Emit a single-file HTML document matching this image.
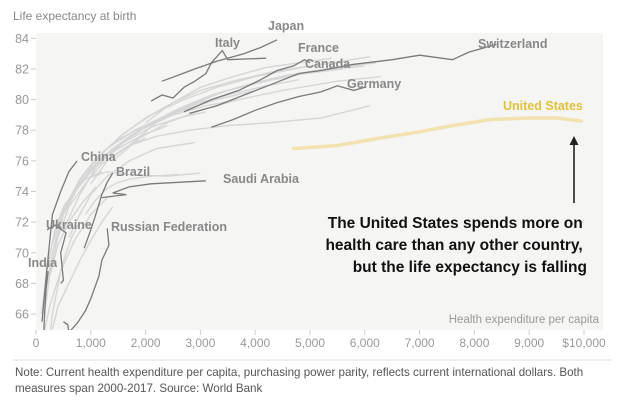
<!DOCTYPE html>
<html><head><meta charset="utf-8">
<style>
body{margin:0;background:#fff;width:624px;height:408px;overflow:hidden;font-family:"Liberation Sans",sans-serif;}
svg text{font-family:"Liberation Sans",sans-serif;}
</style></head>
<body>
<svg id="chart" width="624" height="408" viewBox="0 0 624 408" xmlns="http://www.w3.org/2000/svg">
<defs><clipPath id="pc"><rect x="36" y="33" width="567" height="297"/></clipPath></defs>
<rect x="36" y="33" width="567" height="297" fill="#f5f5f3"/>
<text x="13" y="20" font-size="12" fill="#888">Life expectancy at birth</text>
<text x="599" y="323" font-size="11.5" fill="#999" text-anchor="end">Health expenditure per capita</text>
<g id="axes"></g>
<g id="grey" clip-path="url(#pc)"></g>
<g id="hl" clip-path="url(#pc)"></g>
<g id="labels"></g>
<line x1="574" y1="203" x2="574" y2="142" stroke="#222" stroke-width="1.6"/>
<polygon points="574,136 569.5,145 578.5,145" fill="#222"/>
<text font-size="15.5" font-weight="bold" fill="#111" text-anchor="end">
<tspan x="587" y="228">The United States spends more on</tspan>
<tspan x="587" y="250">health care than any other country,</tspan>
<tspan x="587" y="272">but the life expectancy is falling</tspan></text>
<line x1="13" y1="360" x2="612" y2="360" stroke="#ddd" stroke-width="1"/>
<text font-size="11.6" fill="#555">
<tspan x="15" y="376">Note: Current health expenditure per capita, purchasing power parity, reflects current international dollars. Both</tspan>
<tspan x="15" y="392">measures span 2000-2017. Source: World Bank</tspan></text>
</svg>
<script>
const xTicks=[0,1000,2000,3000,4000,5000,6000,7000,8000,9000,10000];
const xTickLabels=["0","1,000","2,000","3,000","4,000","5,000","6,000","7,000","8,000","9,000","$10,000"];
const yTicks=[66,68,70,72,74,76,78,80,82,84];
const japanX=[2300,2600,2900,3300,3800,4100,4400];
const japanY=[81.2,81.6,82,82.5,83,83.4,83.9];
const italyX=[2100,2300,2500,2700,2900,3100,3200,3300,3400,3500,4200];
const italyY=[79.9,80.3,80.1,80.8,81.2,81.7,82.4,82.8,83.2,82.6,82.7];
const franceX=[2700,3200,3700,4100,4400,4700,4900,5000];
const franceY=[79.2,80,80.6,81.3,81.9,82.2,82.6,82.4];
const canadaX=[2800,3300,3800,4300,4800,5200];
const canadaY=[79.1,79.6,80.3,81,81.7,81.9];
const swissX=[5200,5800,6500,7000,7600,7900,8400];
const swissY=[81.9,82.3,82.6,82.9,82.6,83.1,83.6];
const germanyX=[3200,3600,4000,4400,4800,5200,5500,5800,6000];
const germanyY=[78.2,78.7,79.3,79.8,80.2,80.5,80.9,80.6,80.8];
const usX=[4700,5500,6300,7000,7600,8300,9000,9500,9950];
const usY=[76.8,77,77.5,77.9,78.3,78.7,78.8,78.8,78.6];
const chinaX=[110,200,300,450,600,750];
const chinaY=[65.5,69,72.5,74,75.3,76];
const brazilX=[880,1000,1100,1200,1300,1400];
const brazilY=[70.3,71.5,72.6,73.8,74.6,75.2];
const saudiX=[1200,1650,1400,1700,2100,2600,3100];
const saudiY=[73.6,73.8,73.9,74.3,74.5,74.6,74.7];
const russiaX=[1300,1330,1200,1150,1000,900,750,600,580,500];
const russiaY=[71.6,70.5,69.5,68.5,67,66.2,65.4,64.8,65.3,65.5];
const ukraineX=[200,350,550,450,500,450];
const ukraineY=[71.5,71.8,71.3,70,68.2,68];
const indiaX=[120,150,180,220];
const indiaY=[62,65.5,67.5,68.8];
const greyX=[
[100,200,350,500,700,900,1200],
[200,400,600,900,1200,1600,2000],
[150,300,500,800,1100,1500,1900,2400],
[300,500,800,1200,1600,2100,2600,3100],
[400,700,1000,1400,1900,2500,3100,3700],
[600,900,1300,1800,2400,3000,3600,4200,4800],
[800,1200,1700,2300,2900,3500,4200,4900,5600],
[1000,1500,2000,2600,3200,3900,4600,5300,6200],
[100,250,450,700,1000,1300],
[200,350,600,900,1300,1700,2400,3000],
[1500,2000,2500,3000,3600,4300,5000,5700],
[1700,2200,2800,3400,4000,4600,5200,6000],
[2000,2500,3000,3600,4200,4800,5400],
[300,500,800,1100,1500,2000,2500],
[150,250,400,600,850,1100],
[500,800,1100,1500,2000,2600,3300,4000],
[1200,1600,2100,2700,3300,4000,4700,5400,6100],
[900,1100,1300,1500,1700,2100,2600],
[600,800,1000,1300,1700,2200,2900],
[1000,1300,1700,2200,2800,3500,4300,5200,6100],
[300,400,600,800,1000,1200,1400],
[250,300,380,450,550,650,800],
[1400,1900,2400,3000,3700,4500,5500,6300]];
const greyY=[
[66,69,71.5,73,74,74.8,75.3],
[68,71,73,74.5,75.8,76.8,77.5],
[67,70,72.5,74.5,75.8,76.8,77.6,78.3],
[70,72.5,74.5,76,77.2,78.2,78.8,79.2],
[72,74,75.5,76.8,78,79,79.6,80],
[73.5,75.2,76.8,78,79,79.8,80.4,80.9,81.3],
[74.5,76.2,77.6,78.8,79.8,80.6,81.2,81.7,82],
[75.5,77,78.3,79.4,80.3,81,81.6,82,82.4],
[64,66.5,68.8,70.8,72.5,73.6],
[69,71.5,73.5,74.8,75.3,75.1,75,75.2],
[77.5,78.8,79.8,80.6,81.2,81.8,82.2,82.5],
[77,78.5,79.6,80.5,81.1,81.6,81.9,82.2],
[78.5,79.8,80.8,81.5,82.1,82.4,82.7],
[70.5,72.8,74.8,76.2,77.4,78.3,79],
[66,68.5,70.5,72,73.3,74.3],
[71.5,73.8,75.6,77,78.2,79.2,80,80.6],
[76.5,77.8,79,80,80.8,81.5,82,82.4,82.8],
[72.5,73.5,74.2,74.6,74.8,75,75.1],
[71,72.5,73.8,75,76,76.8,77.2],
[74.5,76,77,77.6,78,78.3,78.5,78.8,79.6],
[65,66.5,68,69.5,70.8,72,73],
[64.5,66,67.5,68.8,70,71,72],
[76,77.5,78.5,79.3,80,80.6,81.2,81.5]];
const X=v=>36+v*0.0548;
const Y=v=>38.3+(84-v)*15.32;
const NS="http://www.w3.org/2000/svg";
function mk(t,a,p){const e=document.createElementNS(NS,t);for(const k in a)e.setAttribute(k,a[k]);p.appendChild(e);return e;}
const axes=document.getElementById('axes');
xTicks.forEach((v,i)=>{
 const l=mk('line',{x1:X(v),x2:X(v),y1:330,y2:335,stroke:'#ccc'},axes);
 
 
 const t=mk('text',{x:X(v),y:347,'font-size':12,fill:'#999','text-anchor':'middle'},axes);
 
 
 t.textContent=xTickLabels[i];
});
yTicks.forEach(v=>{
 const l=mk('line',{x1:31,x2:36,y1:Y(v),y2:Y(v),stroke:'#ccc'},axes);
 
 
 const t=mk('text',{x:29,y:Y(v)+4.5,'font-size':12.5,fill:'#999','text-anchor':'end'},axes);
 
 
 t.textContent=v;
});
function pts(xs,ys){return xs.map((x,i)=>X(x).toFixed(1)+','+Y(ys[i]).toFixed(1)).join(' ');}
const grey=document.getElementById('grey');
greyX.forEach((xs,i)=>{
 const p=mk('polyline',{points:pts(xs,greyY[i]),fill:'none',stroke:'#d6d6d6','stroke-width':1.4},grey);
 
 
});
const hl=document.getElementById('hl');
const series=[
['japan',japanX,japanY],['italy',italyX,italyY],['france',franceX,franceY],['canada',canadaX,canadaY],
['switzerland',swissX,swissY],['germany',germanyX,germanyY],['china',chinaX,chinaY],['brazil',brazilX,brazilY],
['saudi-arabia',saudiX,saudiY],['russia',russiaX,russiaY],['ukraine',ukraineX,ukraineY],['india',indiaX,indiaY]];
series.forEach(s=>{
 const p=mk('polyline',{points:pts(s[1],s[2]),fill:'none',stroke:'#7a7a7a','stroke-width':1.3},hl);
 
 
});
const us=mk('polyline',{points:pts(usX,usY),fill:'none',stroke:'#f1e2b0','stroke-width':3.5,'stroke-linecap':'round'},hl);


const labels=[
['Japan',268,30,'#888'],['Italy',215,47,'#888'],['France',298,52,'#888'],['Canada',305,68,'#888'],
['Switzerland',478,48,'#888'],['Germany',347,88,'#888'],['United States',503,110,'#e0c040'],
['China',81,161,'#888'],['Brazil',116,176,'#888'],['Saudi Arabia',223,183,'#888'],
['Ukraine',46,229,'#888'],['Russian Federation',111,231,'#888'],['India',28,267,'#888']];
const lg=document.getElementById('labels');
labels.forEach(l=>{
 const t=mk('text',{x:l[1],y:l[2],'font-size':12.5,'font-weight':'bold',fill:l[3]},lg);
 
 
 t.textContent=l[0];
});
</script>
</body></html>
